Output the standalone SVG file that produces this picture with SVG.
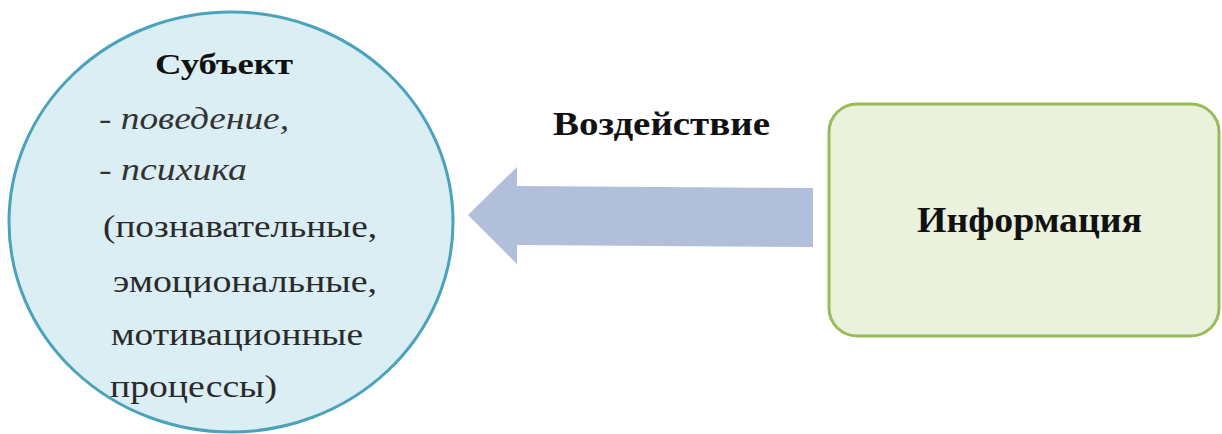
<svg xmlns="http://www.w3.org/2000/svg" width="1222" height="434" viewBox="0 0 1222 434">
  <style>
    .serif { font-family: "Liberation Serif", "Times New Roman", serif; }
    .bold { font-weight: bold; fill: #111; }
    .ital { font-style: italic; fill: #333; }
    .reg { fill: #2a2a2a; }
    .circle { fill: #DAEEF3; stroke: #4AA3BA; stroke-width: 3; }
    .box { fill: #EAF1DD; stroke: #9BBB59; stroke-width: 3; }
    .arrow { fill: #B1BFDA; }
  </style>
  <rect width="1222" height="434" fill="#ffffff"/>

  <g id="node-subject">
    <ellipse class="circle" cx="231" cy="222" rx="222" ry="210"/>
    <text class="serif bold" x="155" y="74" font-size="30" textLength="138" lengthAdjust="spacingAndGlyphs">Субъект</text>
    <text class="serif ital" x="99" y="129" font-size="31" textLength="190" lengthAdjust="spacingAndGlyphs">- поведение,</text>
    <text class="serif ital" x="99" y="180" font-size="31" textLength="148" lengthAdjust="spacingAndGlyphs">- психика</text>
    <text class="serif reg" x="103" y="237" font-size="31" textLength="274" lengthAdjust="spacingAndGlyphs">(познавательные,</text>
    <text class="serif reg" x="113" y="292" font-size="31" textLength="264" lengthAdjust="spacingAndGlyphs">эмоциональные,</text>
    <text class="serif reg" x="111" y="345" font-size="31" textLength="252" lengthAdjust="spacingAndGlyphs">мотивационные</text>
    <text class="serif reg" x="110" y="397" font-size="31" textLength="167" lengthAdjust="spacingAndGlyphs">процессы)</text>
  </g>

  <g id="node-info">
    <rect class="box" x="829" y="104" width="390" height="232" rx="28" ry="28"/>
    <text class="serif bold" x="917" y="232" font-size="36" textLength="225" lengthAdjust="spacingAndGlyphs">Информация</text>
  </g>

  <g id="connectors">
    <polygon class="arrow" points="468,215 517,167 517,186 813,188 813,247 517,245 517,264"/>
    <text class="serif bold" x="553" y="135" font-size="34" textLength="217" lengthAdjust="spacingAndGlyphs">Воздействие</text>
  </g>
</svg>
